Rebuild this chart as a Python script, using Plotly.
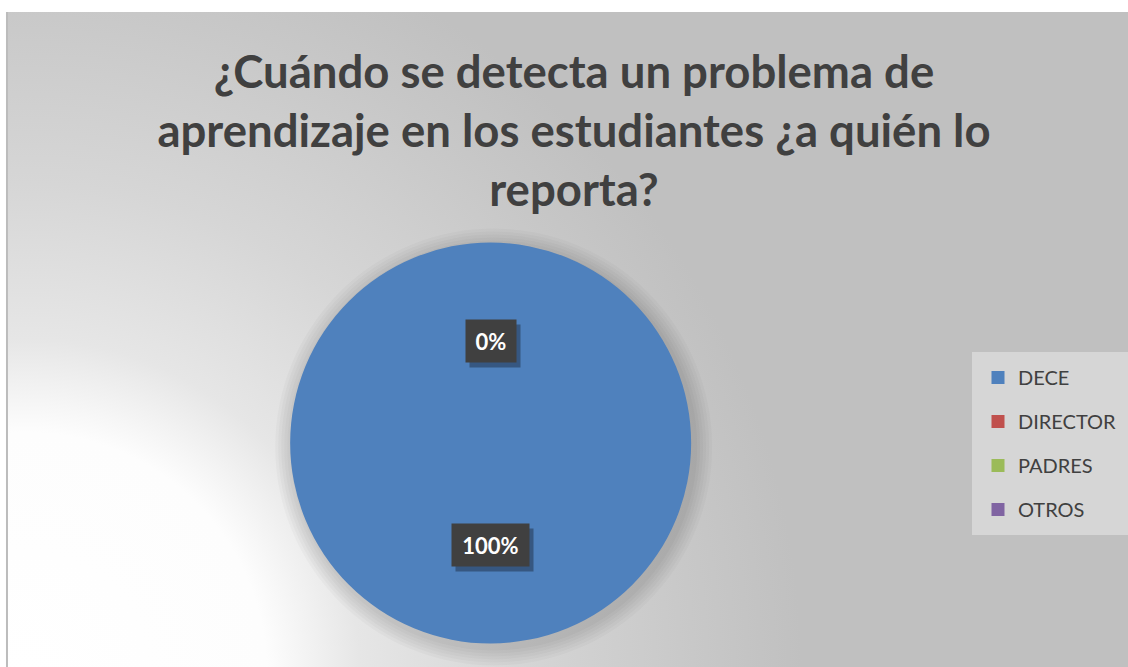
import base64
import math
import plotly.graph_objects as go

# ---- data ----
categories = ["DECE", "DIRECTOR", "PADRES", "OTROS"]
values = [100, 0, 0, 0]
colors = ["#4F81BD", "#C0504D", "#9BBB59", "#8064A2"]
title_lines = ["¿Cuándo se detecta un problema de",
               "aprendizaje en los estudiantes ¿a quién lo",
               "reporta?"]

W, H = 1128, 667
FONT = "Lato, 'Open Sans', sans-serif"
TXT = "#404040"


def px(x):
    return min(max(x / W, 0.0), 1.0)


def py(y):
    return min(max(1 - y / H, 0.0), 1.0)


# background radial gradient (white bottom-left to grey)
BW, BH = 1128 - 6, 667 - 12
svg = f"""<svg xmlns='http://www.w3.org/2000/svg' width='{BW}' height='{BH}' viewBox='0 0 {BW} {BH}' preserveAspectRatio='none'>
<defs><radialGradient id='g' gradientUnits='userSpaceOnUse' cx='20' cy='{BH}' r='770'>
<stop offset='0' stop-color='#ffffff'/>
<stop offset='0.31' stop-color='#fdfdfd'/>
<stop offset='0.43' stop-color='#e6e6e6'/>
<stop offset='0.63' stop-color='#d6d6d6'/>
<stop offset='0.86' stop-color='#c8c8c8'/>
<stop offset='1' stop-color='#c0c0c0'/>
</radialGradient></defs>
<rect width='{BW}' height='{BH}' fill='url(#g)'/></svg>"""
bg_uri = "data:image/svg+xml;base64," + base64.b64encode(svg.encode()).decode()

fig = go.Figure()

# pie geometry
PCX, PCY, PR = 492, 443, 201

# soft shadow halo behind pie
for k in range(1, 7):
    rr = PR + 3 * k
    sx, sy = PCX + 3, PCY + 4
    fig.add_trace(go.Pie(
        values=[1], labels=["s"], marker=dict(colors=["rgba(0,0,0,0.024)"], line=dict(width=0)),
        textinfo="none", hoverinfo="skip", showlegend=False, sort=False,
        domain=dict(x=[px(sx - rr), px(sx + rr)], y=[py(sy + rr), py(sy - rr)]),
    ))

dom_x = [px(PCX - PR), px(PCX + PR)]
dom_y = [py(PCY + PR), py(PCY - PR)]
fig.add_trace(go.Pie(
    labels=categories, values=values, sort=False, direction="clockwise",
    rotation=0, marker=dict(colors=colors, line=dict(width=0)),
    textinfo="none", hoverinfo="label+percent", showlegend=False,
    domain=dict(x=dom_x, y=dom_y),
))

# legend entries
for i, (c, col) in enumerate(zip(categories, colors)):
    fig.add_trace(go.Scatter(
        x=[None], y=[None], mode="markers", name=c, legendgroup=f"g{i}",
        marker=dict(symbol="square", size=13, color=col),
    ))

# data labels computed from slice mid-angles
total = sum(values)
cx = (dom_x[0] + dom_x[1]) / 2
cy = (dom_y[0] + dom_y[1]) / 2
cum = 0
shown = set()
annots = []
for v in values:
    mid = (cum + v / 2) / total * 360
    cum += v
    pct = f"{v / total:.0%}"
    ang = math.radians(mid)
    dx = 0.49 * PR * math.sin(ang) / W
    dy = 0.505 * PR * math.cos(ang) / H
    key = (round(dx, 4), round(dy, 4))
    if key in shown:
        continue
    shown.add(key)
    bw = 13.5 * len(pct) + 9
    for shadow in (True, False):
        annots.append(dict(
            x=cx + dx, y=cy + dy, xref="paper", yref="paper",
            xanchor="center", yanchor="middle",
            text="&nbsp;" if shadow else f"<b>{pct}</b>", showarrow=False,
            font=dict(family=FONT, size=22, color="white"),
            bgcolor="rgba(25,35,55,0.45)" if shadow else "#404040",
            borderpad=7, width=bw, height=28,
            xshift=4 if shadow else 0, yshift=-5 if shadow else 0,
        ))

fig.update_layout(
    width=W, height=H,
    margin=dict(l=0, r=0, t=0, b=0),
    paper_bgcolor="white", plot_bgcolor="rgba(0,0,0,0)",
    xaxis=dict(visible=False), yaxis=dict(visible=False),
    title=dict(text="<b>" + "<br>".join(title_lines) + "</b>",
               x=px(574), xanchor="center", y=py(88), yanchor="top",
               font=dict(family=FONT, size=45.5, color=TXT)),
    legend=dict(x=px(975), y=py(352), xanchor="left", yanchor="top",
                bgcolor="#d6d6d6", bordercolor="#d6d6d6", borderwidth=6,
                font=dict(family=FONT, size=20, color=TXT),
                tracegroupgap=15, itemclick=False),
    images=[dict(source=bg_uri, xref="paper", yref="paper",
                 x=6 / W, y=1 - 12 / H, sizex=1.01 - 6 / W, sizey=1.01 - 12 / H,
                 xanchor="left", yanchor="top", sizing="stretch", layer="below")],
    shapes=[dict(type="line", xref="paper", yref="paper",
                 x0=7 / W, x1=7 / W, y0=-0.01, y1=1 - 12 / H,
                 line=dict(color="#bcbcbc", width=2))],
    annotations=annots,
)

fig.write_html(
    "out.html",
    config={"displayModeBar": False},
    post_script="document.body.style.margin='0';document.body.style.overflow='hidden';",
)
